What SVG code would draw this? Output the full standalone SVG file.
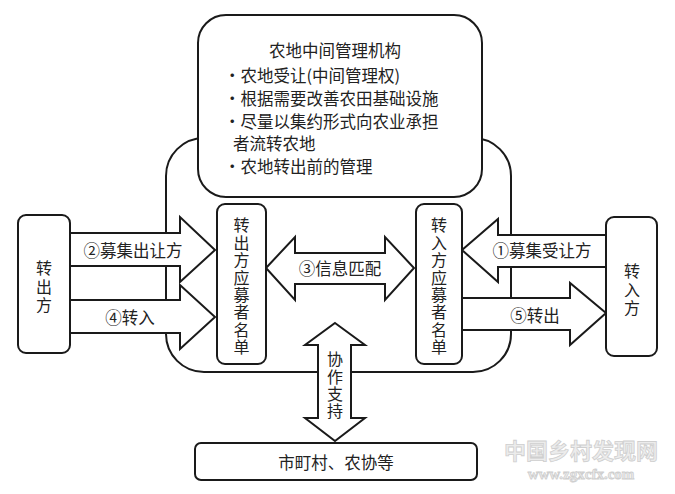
<svg xmlns="http://www.w3.org/2000/svg" width="675" height="494" viewBox="0 0 675 494">
<style>
.s{fill:#fff;stroke:#1a1a1a;stroke-width:2;stroke-linejoin:miter}
.t{font-family:"Noto Sans CJK SC","Noto Sans",sans-serif;font-size:16.5px;fill:#222;text-anchor:middle;dominant-baseline:central}
.v{font-family:"Noto Sans CJK SC","Noto Sans",sans-serif;font-size:16px;fill:#222;text-anchor:middle;writing-mode:vertical-rl;letter-spacing:1.4px}
.l{font-family:"Noto Sans CJK SC","Noto Sans",sans-serif;font-size:16.5px;fill:#222;dominant-baseline:central}
.wm{font-family:"Noto Sans CJK SC",sans-serif;font-weight:bold;fill:#ececec;stroke:#cfcfcf;stroke-width:0.8;text-anchor:middle}
</style>
<g id="frame"><rect class="s" x="166" y="138" width="345" height="234" rx="38"/></g>
<g id="agency">
<rect class="s" x="198" y="15" width="284" height="182" rx="28"/>
<text class="t" x="335" y="50">农地中间管理机构</text>
<text class="l" x="224" y="75">·农地受让(中间管理权)</text>
<text class="l" x="224" y="98">·根据需要改善农田基础设施</text>
<text class="l" x="224" y="121">·尽量以集约形式向农业承担</text>
<text class="l" x="233" y="143">者流转农地</text>
<text class="l" x="224" y="166">·农地转出前的管理</text>
</g>
<g id="connectors">
<polygon class="s" points="62,233 180,233 180,217 215,250 180,282 180,266 62,266"/>
<text class="t" x="133" y="250">②募集出让方</text>
<polygon class="s" points="62,300 180,300 180,285 215,317 180,349 180,333 62,333"/>
<text class="t" x="130" y="317">④转入</text>
<polygon class="s" points="266,268 295,237 295,253 385,253 385,237 414,268 385,300 385,284 295,284 295,300"/>
<text class="t" x="340" y="268">③信息匹配</text>
<polygon class="s" points="612,235 498,235 498,219 462,250 498,282 498,267 612,267"/>
<text class="t" x="542" y="250">①募集受让方</text>
<polygon class="s" points="455,298 570,298 570,283 606,313 570,345 570,330 455,330"/>
<text class="t" x="535" y="315">⑤转出</text>
<polygon class="s" points="335,323 365,345 351,345 351,418 365,418 335,441 305,418 318,418 318,345 305,345"/>
<text class="v" x="335" y="386">协作支持</text>
</g>
<g id="out-party">
<rect class="s" x="18" y="215" width="52" height="138" rx="8"/>
<text class="v" x="44" y="288" style="letter-spacing:2.5px">转出方</text>
</g>
<g id="out-list">
<rect class="s" x="217" y="204" width="49" height="160" rx="8"/>
<text class="v" x="241.5" y="287">转出方应募者名单</text>
</g>
<g id="in-list">
<rect class="s" x="416" y="204" width="46" height="160" rx="8"/>
<text class="v" x="439" y="287">转入方应募者名单</text>
</g>
<g id="in-party">
<rect class="s" x="606" y="217" width="51" height="139" rx="8"/>
<text class="v" x="632" y="291" style="letter-spacing:2.5px">转入方</text>
</g>
<g id="municipal">
<rect class="s" x="195" y="443" width="282" height="37" rx="6"/>
<text class="t" x="336" y="462">市町村、农协等</text>
</g>
<g id="watermark">
<text class="wm" x="581" y="459" font-size="22">中国乡村发现网</text>
<text class="wm" x="581" y="479" font-size="15" style="font-family:'Liberation Serif',serif">www.zgxcfx.com</text>
</g>
</svg>
